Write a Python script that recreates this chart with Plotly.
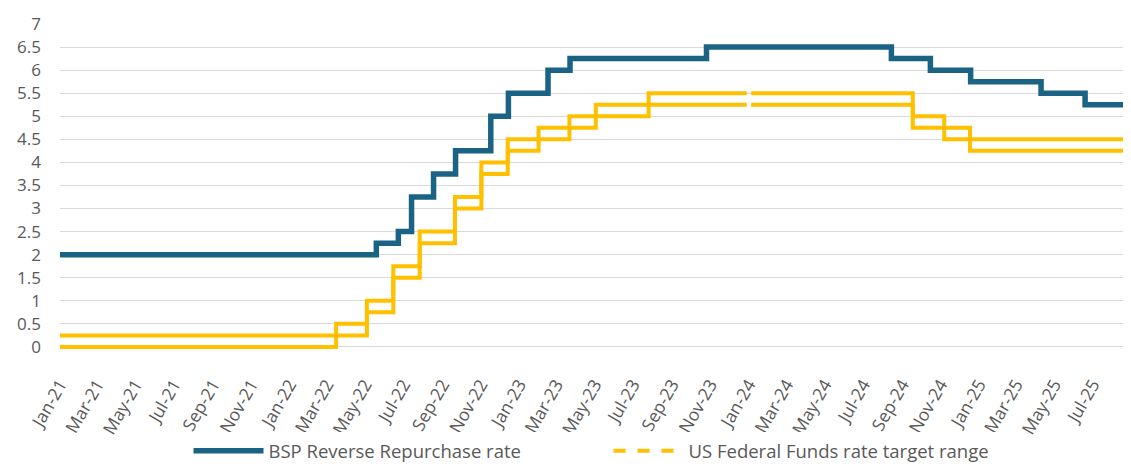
import plotly.graph_objects as go

# BSP Reverse Repurchase rate (policy decision dates)
bsp_dates = ["2021-01-01", "2022-05-19", "2022-06-23", "2022-07-14", "2022-08-18",
             "2022-09-22", "2022-11-17", "2022-12-15", "2023-02-16", "2023-03-23",
             "2023-10-26", "2024-08-15", "2024-10-16", "2024-12-19", "2025-04-10",
             "2025-06-19", "2025-08-31"]
bsp_rate = [2.0, 2.25, 2.5, 3.25, 3.75, 4.25, 5.0, 5.5, 6.0, 6.25, 6.5, 6.25, 6.0,
            5.75, 5.5, 5.25, 5.25]

# US Federal Funds rate target range (lower / upper bounds)
fed_dates = ["2021-01-01", "2022-03-16", "2022-05-04", "2022-06-15", "2022-07-27",
             "2022-09-21", "2022-11-02", "2022-12-14", "2023-02-01", "2023-03-22",
             "2023-05-03", "2023-07-26", "2023-12-29", "2023-12-31", "2024-01-05",
             "2024-09-18", "2024-11-07", "2024-12-18", "2025-08-31"]
fed_lower = [0.0, 0.25, 0.75, 1.5, 2.25, 3.0, 3.75, 4.25, 4.5, 4.75, 5.0, 5.25, 5.25,
             None, 5.25, 4.75, 4.5, 4.25, 4.25]
fed_upper = [0.25, 0.5, 1.0, 1.75, 2.5, 3.25, 4.0, 4.5, 4.75, 5.0, 5.25, 5.5, 5.5,
             None, 5.5, 5.0, 4.75, 4.5, 4.5]

y_ticks = [0, 0.5, 1, 1.5, 2, 2.5, 3, 3.5, 4, 4.5, 5, 5.5, 6, 6.5, 7]
y_tick_text = ["0", "0.5", "1", "1.5", "2", "2.5", "3", "3.5", "4", "4.5", "5", "5.5",
               "6", "6.5", "7"]

BLUE = "#1B6385"
YELLOW = "#FFC000"
FONT = "'Open Sans', sans-serif"

fig = go.Figure()
fig.add_trace(go.Scatter(x=fed_dates, y=fed_lower, mode="lines", line_shape="hv",
                         line=dict(color=YELLOW, width=4), showlegend=False,
                         connectgaps=False, hoverinfo="skip"))
fig.add_trace(go.Scatter(x=fed_dates, y=fed_upper, mode="lines", line_shape="hv",
                         line=dict(color=YELLOW, width=4), showlegend=False,
                         connectgaps=False, hoverinfo="skip"))
fig.add_trace(go.Scatter(x=bsp_dates, y=bsp_rate, mode="lines", line_shape="hv",
                         line=dict(color=BLUE, width=5.5),
                         name="BSP Reverse Repurchase rate"))
fig.add_trace(go.Scatter(x=[None], y=[None], mode="lines",
                         line=dict(color=YELLOW, width=4, dash="dash"),
                         name="US Federal Funds rate target range"))

fig.update_layout(
    width=1123, height=458,
    margin=dict(l=52, r=0, t=16, b=117),
    plot_bgcolor="white", paper_bgcolor="white",
    font=dict(family=FONT, color="#595959", size=17),
    legend=dict(orientation="h", x=0.12, xanchor="left",
                yref="container", y=0.032, yanchor="middle",
                font=dict(size=18.5, color="#595959"), itemwidth=70,
                entrywidth=335, tracegroupgap=0),
    xaxis=dict(type="date", range=["2021-01-01", "2025-08-31"],
               tick0="2021-01-01", dtick="M2", tickformat="%b-%y",
               tickangle=-60, showgrid=False, zeroline=False, showline=False,
               ticks="", automargin=False, ticklabelstandoff=21,
               tickfont=dict(size=17.5, color="#595959")),
    yaxis=dict(range=[-0.045, 7], tickvals=y_ticks, ticktext=y_tick_text,
               showgrid=True, gridcolor="#D9D9D9", gridwidth=1.3,
               zeroline=False, showline=False, ticks="", automargin=False,
               ticklabelstandoff=18,
               tickfont=dict(size=17, color="#595959")),
)

fig.write_html("out.html")
